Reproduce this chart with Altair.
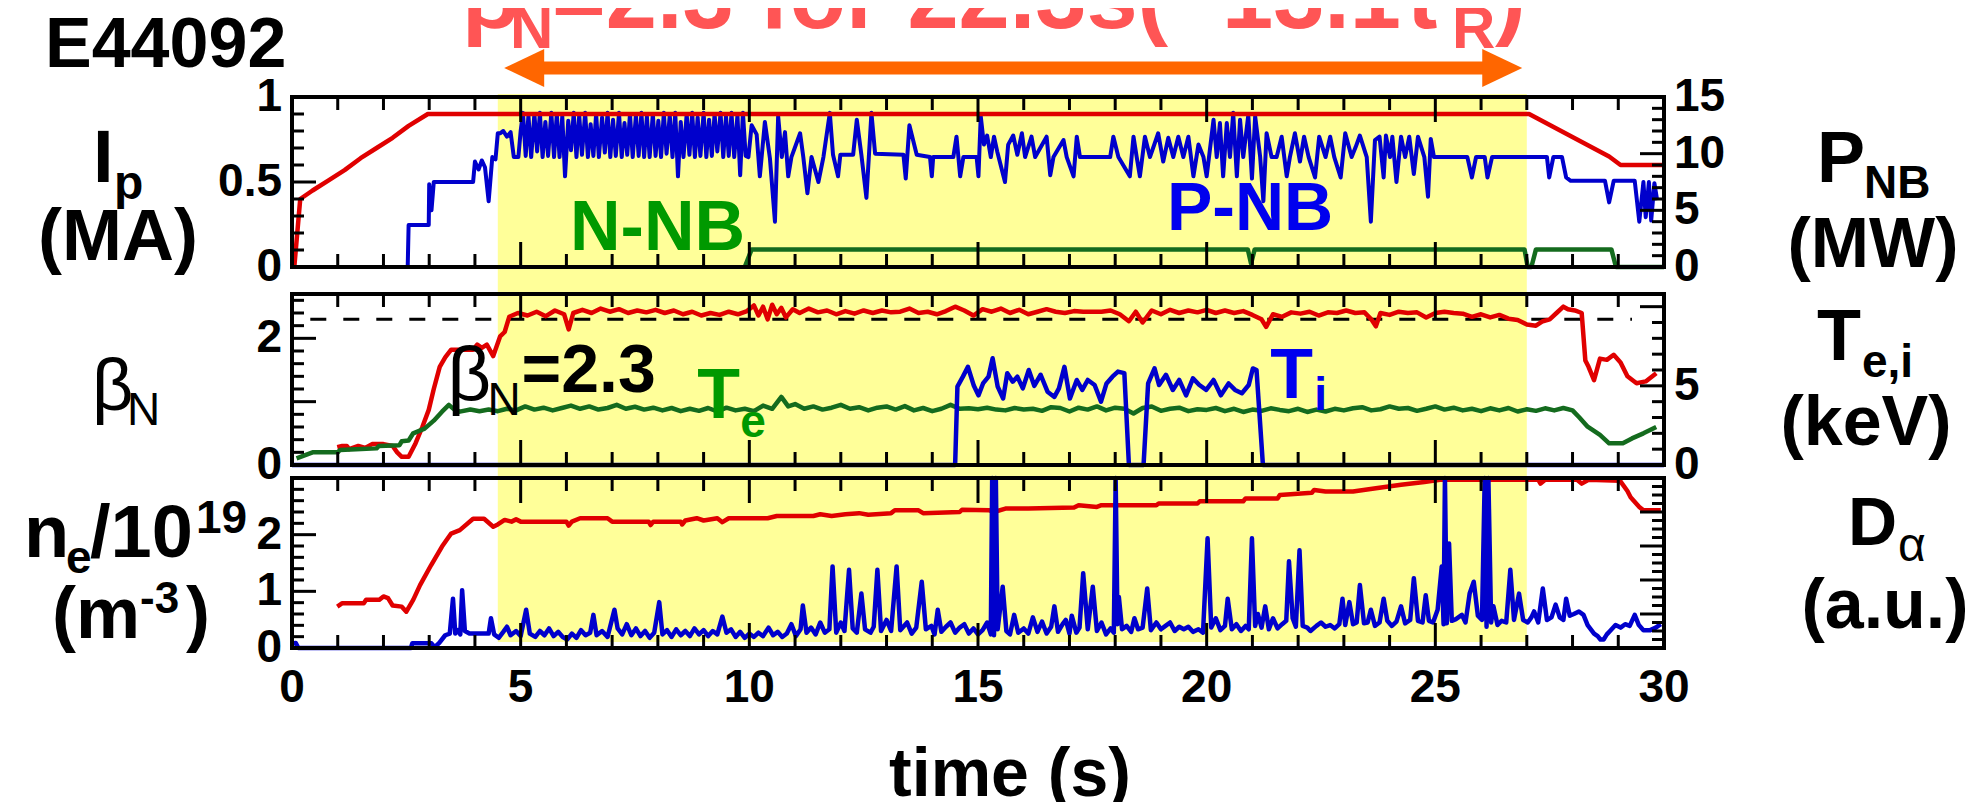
import altair as alt
import pandas as pd

FONT = "Liberation Sans"

# ------------------------------------------------------------------ data
# (time [s], value) pairs
IP = [(0.05, 0.0), (0.18, 0.40), (0.45, 0.45), (0.80, 0.51), (1.15, 0.57), (1.50, 0.64),
      (1.85, 0.70), (2.20, 0.76), (2.55, 0.83), (2.97, 0.90), (27.05, 0.90), (27.40, 0.85),
      (27.75, 0.80), (28.10, 0.75), (28.45, 0.70), (28.80, 0.65), (29.05, 0.60), (30.0, 0.60)]

PNB = [(2.53, 0.0), (2.55, 3.7), (2.99, 3.7), (3.00, 7.3), (3.05, 5.0), (3.10, 7.5), (3.96, 7.5),
       (4.00, 9.3), (4.08, 8.6), (4.15, 9.4), (4.22, 8.8), (4.30, 5.8), (4.38, 9.7), (4.45, 9.5),
       (4.50, 11.8), (4.55, 11.8), (4.62, 12.0), (4.70, 11.5), (4.78, 11.9), (4.85, 9.7), (4.95, 9.7),
       (5.00, 12.0),
       (5.05, 13.6), (5.11, 9.8), (5.17, 13.4), (5.23, 9.7), (5.30, 13.5), (5.36, 10.2), (5.42, 13.6), (5.48, 9.7), (5.54, 12.8), (5.60, 9.8),
       (5.67, 13.6), (5.73, 9.7), (5.79, 13.5), (5.85, 9.7), (5.91, 13.3), (5.97, 8.0), (6.04, 12.9), (6.10, 10.3), (6.16, 13.6), (6.22, 9.7),
       (6.28, 13.4), (6.34, 9.9), (6.41, 13.6), (6.47, 9.7), (6.53, 12.6), (6.59, 9.8), (6.65, 13.5), (6.71, 9.7), (6.78, 13.2), (6.84, 10.1),
       (6.90, 13.6), (6.96, 9.7), (7.02, 13.0), (7.08, 9.8), (7.15, 13.6), (7.21, 9.7), (7.27, 12.7), (7.33, 9.9), (7.39, 13.5), (7.45, 9.7),
       (7.52, 13.4), (7.58, 9.8), (7.64, 13.6), (7.70, 9.7), (7.76, 13.3), (7.82, 9.7), (7.89, 13.5), (7.95, 9.8), (8.01, 12.9), (8.07, 9.7),
       (8.13, 13.6), (8.19, 10.0), (8.26, 13.4), (8.32, 9.7), (8.38, 13.6), (8.44, 8.0), (8.50, 12.8), (8.56, 9.7), (8.63, 13.5), (8.69, 9.9),
       (8.75, 13.6), (8.81, 9.7), (8.87, 13.2), (8.93, 9.8), (9.00, 13.6), (9.06, 9.7), (9.12, 13.0), (9.18, 9.8), (9.24, 13.5), (9.30, 10.2),
       (9.37, 13.6), (9.43, 9.7), (9.49, 13.3), (9.55, 9.8), (9.61, 13.6), (9.67, 9.7), (9.74, 13.4), (9.80, 8.1), (9.86, 13.6), (9.92, 9.8),
       (9.98, 9.7), (10.05, 12.5), (10.16, 11.7), (10.23, 8.0), (10.34, 12.8), (10.45, 9.6), (10.56, 4.0),
       (10.63, 13.3), (10.71, 9.7), (10.78, 11.9), (10.85, 8.0), (10.92, 9.7), (11.11, 11.8), (11.18, 9.7),
       (11.27, 6.5), (11.36, 9.7), (11.51, 7.5), (11.62, 9.7), (11.76, 13.6), (11.83, 9.9), (11.94, 8.0),
       (11.99, 9.9), (12.27, 9.9), (12.35, 13.0), (12.45, 9.9), (12.56, 6.1), (12.67, 13.6), (12.75, 10.0),
       (13.37, 9.9), (13.42, 7.8), (13.50, 12.5), (13.66, 9.9), (13.95, 9.7), (13.99, 8.0), (14.02, 9.7),
       (14.46, 9.7), (14.53, 11.5), (14.61, 8.0), (14.68, 9.7), (14.97, 9.7), (15.01, 8.0), (15.06, 13.3),
       (15.13, 10.8), (15.20, 11.6), (15.28, 9.7), (15.35, 11.5), (15.42, 10.2), (15.59, 7.5), (15.66, 10.8),
       (15.77, 11.6), (15.86, 9.9), (15.96, 11.8), (16.03, 9.7), (16.17, 11.5), (16.25, 9.7), (16.50, 11.5),
       (16.58, 8.1), (16.65, 9.7), (16.87, 11.2), (16.94, 9.7), (17.09, 8.0), (17.16, 11.5), (17.23, 9.7),
       (17.89, 9.7), (17.96, 11.5), (18.07, 9.7), (18.32, 8.0), (18.40, 11.5), (18.47, 9.7), (18.54, 8.0),
       (18.65, 11.5), (18.76, 9.7), (18.94, 11.8), (19.05, 9.3), (19.16, 11.4), (19.27, 9.7), (19.38, 11.5),
       (19.49, 9.7), (19.60, 11.5), (19.71, 8.0), (19.82, 10.8), (19.93, 9.7), (20.00, 8.0), (20.15, 13.0),
       (20.22, 9.7), (20.29, 12.7), (20.36, 8.0), (20.44, 12.7), (20.51, 9.7), (20.58, 13.6), (20.66, 8.0),
       (20.73, 13.0), (20.80, 9.7), (20.91, 13.4), (20.99, 7.8), (21.06, 13.3), (21.17, 9.7), (21.24, 5.8),
       (21.31, 11.8), (21.42, 9.7), (21.53, 9.7), (21.64, 11.5), (21.75, 8.0), (21.82, 9.7), (21.93, 11.8),
       (22.04, 9.3), (22.13, 11.5), (22.23, 9.7), (22.37, 7.9), (22.46, 11.5), (22.60, 9.7), (22.70, 11.5),
       (22.79, 9.7), (22.93, 7.9), (23.03, 11.8), (23.17, 9.7), (23.26, 10.6), (23.35, 11.6), (23.50, 9.7),
       (23.59, 4.0), (23.68, 11.2), (23.78, 11.5), (23.87, 7.9), (23.92, 11.6), (24.01, 9.7), (24.06, 11.5),
       (24.15, 7.5), (24.25, 11.5), (24.34, 9.7), (24.43, 11.5), (24.53, 8.2), (24.62, 11.5), (24.76, 9.7),
       (24.84, 6.2), (24.90, 11.3), (24.97, 9.7), (25.70, 9.7), (25.80, 7.9), (25.89, 9.7), (26.08, 9.7),
       (26.14, 7.9), (26.24, 9.7), (27.44, 9.7), (27.49, 7.9), (27.58, 9.7), (27.77, 9.7), (27.86, 7.9),
       (27.96, 7.6), (28.71, 7.6), (28.80, 5.7), (28.90, 7.6), (29.36, 7.6), (29.46, 4.0), (29.55, 7.5),
       (29.60, 4.4), (29.67, 7.5), (29.72, 4.1), (29.79, 7.4), (29.85, 5.9)]

NNB = [(9.90, 0.0), (10.05, 1.55), (20.90, 1.55), (20.97, 0.3), (21.05, 1.55), (26.95, 1.55),
       (27.02, 0.0), (27.10, 0.0), (27.20, 1.55), (28.85, 1.55), (28.95, 0.0), (30.0, 0.0)]

BETA = [(0.99, 0.28), (1.10, 0.30), (1.20, 0.30), (1.25, 0.25), (1.45, 0.30), (1.60, 0.27), (1.75, 0.33),
        (2.00, 0.33), (2.20, 0.30), (2.30, 0.20), (2.40, 0.13), (2.55, 0.13), (2.70, 0.34), (2.85, 0.60),
        (2.99, 0.87), (3.10, 1.20), (3.23, 1.55), (3.35, 1.70), (3.48, 1.82), (3.96, 1.82), (4.05, 1.90),
        (4.15, 1.85), (4.26, 1.90), (4.40, 1.72), (4.55, 2.03), (4.65, 2.10), (4.75, 2.34), (4.94, 2.40),
        (5.15, 2.36), (5.35, 2.42), (5.55, 2.35), (5.75, 2.44), (5.95, 2.38), (6.05, 2.14), (6.15, 2.40),
        (6.35, 2.45), (6.55, 2.40), (6.75, 2.47), (6.95, 2.42), (7.15, 2.46), (7.35, 2.40), (7.55, 2.44),
        (7.75, 2.41), (7.95, 2.45), (8.15, 2.40), (8.35, 2.44), (8.55, 2.38), (8.75, 2.42), (8.95, 2.36),
        (9.15, 2.40), (9.35, 2.37), (9.55, 2.42), (9.75, 2.38), (9.95, 2.43), (10.10, 2.52), (10.20, 2.36),
        (10.30, 2.50), (10.40, 2.30), (10.50, 2.53), (10.60, 2.38), (10.70, 2.48), (10.80, 2.33), (10.95, 2.46),
        (11.10, 2.40), (11.30, 2.47), (11.50, 2.41), (11.70, 2.44), (11.90, 2.38), (12.10, 2.43), (12.30, 2.39),
        (12.50, 2.44), (12.70, 2.40), (12.90, 2.44), (13.10, 2.41), (13.30, 2.42), (13.50, 2.47), (13.70, 2.40),
        (13.90, 2.42), (14.10, 2.38), (14.30, 2.43), (14.50, 2.50), (14.70, 2.44), (14.90, 2.36), (15.10, 2.46),
        (15.30, 2.42), (15.50, 2.47), (15.70, 2.40), (15.90, 2.45), (16.10, 2.38), (16.30, 2.42), (16.50, 2.46),
        (16.70, 2.42), (16.90, 2.40), (17.10, 2.43), (17.30, 2.42), (17.50, 2.42), (17.70, 2.42), (17.90, 2.44),
        (18.10, 2.38), (18.30, 2.27), (18.45, 2.42), (18.60, 2.25), (18.80, 2.44), (19.00, 2.38), (19.20, 2.45),
        (19.40, 2.40), (19.60, 2.44), (19.80, 2.41), (20.00, 2.45), (20.20, 2.40), (20.40, 2.44), (20.60, 2.40),
        (20.80, 2.43), (21.00, 2.37), (21.20, 2.30), (21.30, 2.18), (21.45, 2.38), (21.65, 2.34), (21.85, 2.41),
        (22.05, 2.39), (22.25, 2.42), (22.45, 2.36), (22.65, 2.41), (22.85, 2.40), (23.05, 2.44), (23.25, 2.40),
        (23.45, 2.41), (23.60, 2.30), (23.70, 2.19), (23.80, 2.40), (24.00, 2.37), (24.20, 2.42), (24.40, 2.40),
        (24.60, 2.41), (24.80, 2.33), (25.00, 2.40), (25.20, 2.42), (25.40, 2.40), (25.60, 2.39), (25.80, 2.34),
        (26.00, 2.38), (26.20, 2.33), (26.40, 2.37), (26.60, 2.31), (26.80, 2.29), (27.00, 2.22), (27.20, 2.20),
        (27.35, 2.27), (27.50, 2.30), (27.65, 2.40), (27.80, 2.50), (27.90, 2.46), (28.05, 2.44), (28.20, 2.40),
        (28.28, 1.65), (28.35, 1.55), (28.47, 1.34), (28.60, 1.68), (28.75, 1.66), (28.90, 1.74), (29.05, 1.62),
        (29.20, 1.40), (29.40, 1.29), (29.60, 1.32), (29.83, 1.45)]

TE = [(0.10, 0.42), (0.45, 0.80), (1.00, 0.80), (1.05, 0.95), (1.40, 1.00), (1.85, 1.05), (1.90, 1.20),
      (2.35, 1.25), (2.40, 1.50), (2.55, 1.55), (2.65, 2.00), (2.90, 2.30), (3.10, 2.80), (3.28, 3.37),
      (3.43, 3.80), (3.55, 3.50), (3.67, 3.37), (3.90, 3.50), (4.10, 3.40), (4.30, 3.50), (4.50, 3.40),
      (4.7, 3.55), (4.9, 3.45), (5.1, 3.70), (5.3, 3.50), (5.5, 3.62), (5.7, 3.45), (5.9, 3.60), (6.1, 3.75),
      (6.3, 3.55), (6.5, 3.70), (6.7, 3.50), (6.9, 3.60), (7.1, 3.80), (7.3, 3.55), (7.5, 3.68), (7.7, 3.50),
      (7.9, 3.62), (8.1, 3.45), (8.3, 3.60), (8.5, 3.40), (8.7, 3.55), (8.9, 3.42), (9.1, 3.60), (9.3, 3.38),
      (9.5, 3.62), (9.7, 3.45), (9.9, 3.55), (10.1, 3.40), (10.3, 3.75), (10.5, 3.55), (10.7, 4.30), (10.85, 3.70),
      (11.0, 3.85), (11.2, 3.55), (11.4, 3.70), (11.6, 3.50), (11.8, 3.62), (12.0, 3.80), (12.2, 3.55), (12.4, 3.65),
      (12.6, 3.45), (12.8, 3.62), (13.0, 3.70), (13.2, 3.50), (13.4, 3.72), (13.6, 3.45), (13.8, 3.60), (14.0, 3.40),
      (14.2, 3.55), (14.4, 3.80), (14.6, 3.55), (14.8, 3.58), (15.0, 3.52), (15.2, 3.62), (15.4, 3.50), (15.6, 3.45),
      (15.8, 3.60), (16.0, 3.50), (16.2, 3.55), (16.4, 3.42), (16.6, 3.65), (16.8, 3.60), (17.0, 3.38), (17.2, 3.62),
      (17.4, 3.50), (17.6, 3.70), (17.8, 3.45), (18.0, 3.62), (18.2, 3.55), (18.4, 3.25), (18.6, 3.60), (18.8, 3.70),
      (19.0, 3.42), (19.2, 3.55), (19.4, 3.62), (19.6, 3.40), (19.8, 3.52), (20.0, 3.48), (20.2, 3.60), (20.4, 3.40),
      (20.6, 3.55), (20.8, 3.35), (21.0, 3.50), (21.2, 3.42), (21.4, 3.58), (21.6, 3.48), (21.8, 3.40), (22.0, 3.55),
      (22.2, 3.35), (22.4, 3.50), (22.6, 3.38), (22.8, 3.55), (23.0, 3.45), (23.2, 3.58), (23.4, 3.65), (23.6, 3.45),
      (23.8, 3.52), (24.0, 3.70), (24.2, 3.55), (24.4, 3.60), (24.6, 3.42), (24.8, 3.55), (25.0, 3.70), (25.2, 3.50),
      (25.4, 3.62), (25.6, 3.45), (25.8, 3.55), (26.0, 3.40), (26.2, 3.58), (26.4, 3.45), (26.6, 3.60), (26.8, 3.38),
      (27.0, 3.52), (27.2, 3.42), (27.4, 3.58), (27.6, 3.45), (27.8, 3.60), (28.0, 3.45), (28.15, 3.00),
      (28.33, 2.42), (28.60, 1.90), (28.80, 1.37), (29.10, 1.37), (29.30, 1.68), (29.55, 2.00), (29.83, 2.40)]

TI = [(0.0, 0.0), (14.50, 0.0), (14.55, 4.95), (14.67, 5.58), (14.78, 6.2), (14.91, 5.0), (15.01, 4.4),
      (15.11, 5.15), (15.23, 5.58), (15.32, 6.74), (15.43, 4.95), (15.55, 4.2), (15.64, 5.8), (15.76, 5.26),
      (15.86, 5.58), (15.98, 4.84), (16.11, 6.0), (16.23, 5.0), (16.37, 5.7), (16.52, 4.63), (16.67, 4.3),
      (16.77, 4.84), (16.89, 6.2), (17.01, 4.2), (17.16, 5.37), (17.28, 4.74), (17.40, 5.37), (17.55, 5.05),
      (17.69, 4.0), (17.81, 5.15), (17.94, 5.58), (18.06, 5.9), (18.20, 5.8), (18.30, 0.0), (18.62, 0.0),
      (18.72, 5.15), (18.86, 6.1), (18.96, 5.05), (19.11, 5.7), (19.26, 4.74), (19.40, 5.37), (19.55, 4.4),
      (19.70, 5.47), (19.84, 5.05), (19.99, 4.74), (20.15, 5.37), (20.31, 4.4), (20.48, 5.15), (20.62, 4.74),
      (20.77, 4.53), (20.92, 5.05), (21.01, 6.1), (21.09, 6.0), (21.23, 0.0), (30.0, 0.0)]

NE = [(0.99, 0.73), (1.10, 0.79), (1.57, 0.79), (1.62, 0.85), (1.91, 0.85), (2.00, 0.91), (2.10, 0.88),
      (2.20, 0.75), (2.40, 0.73), (2.50, 0.64), (2.65, 0.85), (2.80, 1.11), (3.04, 1.46), (3.28, 1.79),
      (3.48, 2.02), (3.67, 2.08), (3.96, 2.28), (4.20, 2.28), (4.40, 2.14), (4.50, 2.18), (4.65, 2.26),
      (4.80, 2.23), (4.90, 2.27), (5.00, 2.23), (6.00, 2.23), (6.05, 2.16), (6.12, 2.23), (6.30, 2.29),
      (6.90, 2.29), (7.00, 2.23), (7.80, 2.23), (7.84, 2.17), (7.90, 2.23), (8.50, 2.23), (8.53, 2.18),
      (8.60, 2.25), (8.85, 2.29), (9.00, 2.25), (9.30, 2.29), (9.41, 2.22), (9.55, 2.29), (10.40, 2.29),
      (10.60, 2.33), (11.40, 2.33), (11.55, 2.36), (11.80, 2.33), (12.10, 2.36), (12.40, 2.38), (12.60, 2.35),
      (13.10, 2.38), (13.18, 2.43), (13.70, 2.43), (13.80, 2.38), (14.60, 2.40), (14.65, 2.44), (15.25, 2.43),
      (15.35, 2.40), (15.60, 2.46), (16.10, 2.46), (17.10, 2.48), (17.20, 2.52), (17.60, 2.49), (17.70, 2.52),
      (18.90, 2.52), (18.95, 2.55), (19.80, 2.55), (19.85, 2.59), (20.80, 2.59), (20.85, 2.64), (21.55, 2.64),
      (21.60, 2.70), (22.30, 2.74), (22.35, 2.79), (22.60, 2.76), (23.20, 2.76), (23.70, 2.82), (24.25, 2.88),
      (24.76, 2.93), (25.10, 2.97), (27.25, 2.97), (27.30, 2.90), (27.40, 2.97), (28.10, 2.97), (28.20, 2.90),
      (28.35, 2.97), (29.04, 2.95), (29.20, 2.77), (29.27, 2.66), (29.46, 2.49), (29.55, 2.43), (29.93, 2.43)]

DALPHA = [(0.00, 0.5), (0.08, 0.6), (0.14, 0.0), (2.60, 0.0), (2.63, 0.55), (3.05, 0.55), (3.12, 0.1),
          (3.22, 0.6), (3.35, 1.5), (3.45, 1.7), (3.52, 5.8), (3.57, 1.7), (3.63, 2.1), (3.68, 1.6),
          (3.72, 6.8), (3.78, 2.0), (3.88, 1.7), (4.30, 1.7), (4.35, 3.5), (4.42, 1.6), (4.52, 1.2),
          (4.62, 1.9), (4.70, 2.5), (4.78, 1.5), (4.90, 2.0), (5.00, 1.4), (5.12, 4.5), (5.20, 1.7),
          (5.32, 1.3), (5.42, 2.0), (5.52, 1.5), (5.62, 2.3), (5.72, 1.4), (5.82, 1.9), (5.92, 1.3),
          (6.02, 1.0), (6.12, 1.7), (6.22, 1.2), (6.32, 2.1), (6.42, 1.5), (6.52, 1.8), (6.59, 3.9),
          (6.66, 1.5), (6.78, 2.0), (6.90, 1.3), (7.05, 4.5), (7.12, 2.3), (7.22, 1.6), (7.32, 2.8),
          (7.42, 1.5), (7.52, 2.3), (7.62, 1.4), (7.72, 2.0), (7.82, 1.2), (7.92, 1.8), (8.03, 5.4),
          (8.10, 1.6), (8.20, 2.1), (8.30, 1.3), (8.40, 2.2), (8.50, 1.5), (8.60, 2.0), (8.70, 1.4),
          (8.80, 2.3), (8.90, 1.6), (9.00, 2.1), (9.10, 1.4), (9.20, 2.0), (9.30, 1.6), (9.41, 3.7),
          (9.50, 1.8), (9.60, 2.2), (9.70, 1.3), (9.80, 1.9), (9.90, 1.2), (10.00, 1.7), (10.10, 1.3),
          (10.20, 1.8), (10.30, 1.4), (10.42, 2.4), (10.52, 1.5), (10.62, 1.9), (10.72, 1.3), (10.82, 1.7),
          (10.92, 2.8), (11.02, 1.4), (11.12, 2.2), (11.17, 5.0), (11.25, 1.8), (11.35, 2.4), (11.45, 1.6),
          (11.55, 3.0), (11.65, 1.8), (11.75, 2.2), (11.82, 9.6), (11.90, 1.8), (12.00, 3.0), (12.08, 2.0),
          (12.18, 9.2), (12.26, 2.3), (12.35, 1.8), (12.45, 6.4), (12.53, 2.2), (12.65, 1.8), (12.72, 2.5),
          (12.80, 9.2), (12.88, 2.0), (13.00, 3.3), (13.10, 2.0), (13.22, 9.6), (13.30, 2.1), (13.45, 3.0),
          (13.55, 1.7), (13.65, 2.4), (13.77, 7.8), (13.86, 2.2), (13.98, 2.6), (14.05, 1.6), (14.12, 4.5),
          (14.20, 1.9), (14.30, 2.5), (14.40, 3.0), (14.50, 1.8), (14.60, 2.4), (14.70, 2.8), (14.80, 1.7),
          (14.90, 2.3), (15.00, 1.6), (15.10, 2.1), (15.20, 3.0), (15.28, 1.6), (15.31, 24.0), (15.35, 1.5),
          (15.39, 24.0), (15.43, 2.2), (15.54, 7.2), (15.62, 2.0), (15.70, 1.6), (15.79, 3.9), (15.88, 1.8),
          (16.00, 2.3), (16.10, 1.7), (16.20, 3.6), (16.30, 1.9), (16.40, 3.1), (16.50, 1.7), (16.60, 2.5),
          (16.67, 4.9), (16.75, 1.9), (16.85, 2.8), (16.92, 3.3), (17.00, 1.7), (17.05, 3.8), (17.15, 1.8),
          (17.22, 2.4), (17.30, 8.8), (17.40, 2.2), (17.51, 7.2), (17.60, 2.0), (17.70, 3.0), (17.80, 1.6),
          (17.90, 2.3), (17.97, 1.8), (18.01, 24.0), (18.05, 2.8), (18.08, 6.0), (18.15, 2.2), (18.25, 2.6),
          (18.35, 1.9), (18.42, 3.5), (18.50, 2.2), (18.60, 2.4), (18.70, 7.0), (18.78, 2.1), (18.90, 3.0),
          (19.00, 2.2), (19.10, 2.6), (19.20, 3.0), (19.30, 2.0), (19.40, 2.5), (19.50, 2.2), (19.60, 2.5),
          (19.70, 1.9), (19.82, 2.2), (19.92, 1.8), (20.02, 12.9), (20.10, 2.4), (20.20, 3.5), (20.30, 2.1),
          (20.40, 2.6), (20.46, 5.8), (20.55, 2.2), (20.65, 2.8), (20.75, 2.0), (20.85, 2.6), (20.92, 2.2),
          (20.99, 12.9), (21.06, 2.6), (21.12, 4.0), (21.20, 2.4), (21.28, 4.9), (21.36, 2.2), (21.45, 3.5),
          (21.55, 2.3), (21.65, 2.8), (21.74, 3.2), (21.80, 10.2), (21.88, 3.5), (21.95, 2.5), (22.03, 11.5),
          (22.10, 2.6), (22.20, 2.4), (22.27, 2.0), (22.40, 2.6), (22.50, 3.0), (22.60, 2.5), (22.70, 2.7),
          (22.80, 2.3), (22.90, 2.8), (22.97, 5.8), (23.03, 2.7), (23.12, 5.4), (23.20, 2.8), (23.28, 3.0),
          (23.35, 7.4), (23.44, 2.9), (23.52, 3.0), (23.59, 4.5), (23.68, 2.6), (23.78, 3.0), (23.87, 5.8),
          (23.95, 3.2), (24.05, 2.6), (24.15, 3.1), (24.25, 4.9), (24.34, 2.9), (24.45, 3.3), (24.53, 8.2),
          (24.62, 3.2), (24.72, 3.0), (24.79, 6.2), (24.86, 3.2), (24.95, 3.0), (25.05, 4.5), (25.14, 9.6),
          (25.18, 2.8), (25.21, 24.0), (25.25, 2.9), (25.30, 12.3), (25.36, 3.2), (25.45, 3.4), (25.58, 3.9),
          (25.66, 3.0), (25.75, 6.4), (25.84, 7.8), (25.93, 3.8), (26.02, 3.3), (26.08, 24.0), (26.12, 2.5),
          (26.16, 24.0), (26.22, 3.0), (26.27, 4.9), (26.36, 2.7), (26.45, 3.2), (26.55, 3.0), (26.64, 9.2),
          (26.72, 3.3), (26.83, 6.4), (26.92, 3.3), (27.02, 3.0), (27.10, 3.6), (27.16, 4.3), (27.25, 3.0),
          (27.35, 7.0), (27.44, 3.3), (27.54, 3.6), (27.63, 5.1), (27.72, 3.6), (27.80, 3.3), (27.86, 5.8),
          (27.94, 3.8), (28.03, 4.0), (28.14, 4.3), (28.24, 3.9), (28.33, 2.7), (28.40, 2.2), (28.47, 1.7),
          (28.55, 1.4), (28.61, 1.0), (28.68, 1.0), (28.75, 1.6), (28.82, 2.0), (28.94, 2.7), (29.05, 2.4),
          (29.15, 2.8), (29.25, 2.6), (29.36, 3.9), (29.45, 2.7), (29.55, 2.1), (29.70, 2.1), (29.82, 2.4),
          (29.93, 2.8)]

BETA_TARGET = 2.3
BETA_TARGET_SPAN = [0.4, 29.3]
FLATTOP = [4.5, 27.0]        # highlighted beta_N = 2.3 phase
ARROW_SPAN = [4.64, 26.9]

# axis ticks and labels
T_DOMAIN = [0, 30]
T_MINOR = [1, 2, 3, 4, 6, 7, 8, 9, 11, 12, 13, 14, 16, 17, 18, 19, 21, 22, 23, 24, 26, 27, 28, 29]
T_MAJOR = [5, 10, 15, 20, 25]
T_LABELS = [0, 5, 10, 15, 20, 25, 30]

IP_DOMAIN = [0, 1]
IP_MINOR = [0.1, 0.2, 0.3, 0.4, 0.6, 0.7, 0.8, 0.9]
IP_MAJOR = [0.5]
IP_LABELS = [(0, "0"), (0.5, "0.5"), (1, "1")]

PNB_DOMAIN = [0, 15]
PNB_MINOR = [1, 2, 3, 4, 6, 7, 8, 9, 11, 12, 13, 14]
PNB_MAJOR = [5, 10]
PNB_LABELS = [(0, "0"), (5, "5"), (10, "10"), (15, "15")]

BETA_DOMAIN = [0, 2.7]
BETA_MINOR = [0.2, 0.4, 0.6, 0.8, 1.2, 1.4, 1.6, 1.8, 2.2, 2.4, 2.6]
BETA_MAJOR = [1, 2]
BETA_LABELS = [(0, "0"), (2, "2")]

TE_DOMAIN = [0, 10.8]
TE_MINOR = [1, 2, 3, 4, 6, 7, 8, 9]
TE_MAJOR = [5, 10]
TE_LABELS = [(0, "0"), (5, "5")]

NE_DOMAIN = [0, 3]
NE_MINOR = [0.2, 0.4, 0.6, 0.8, 1.2, 1.4, 1.6, 1.8, 2.2, 2.4, 2.6, 2.8]
NE_MAJOR = [1, 2]
NE_LABELS = [(0, "0"), (1, "1"), (2, "2")]

DA_DOMAIN = [0, 20]
DA_MINOR = [1, 2, 3, 5, 6, 7, 9, 10, 11, 13, 14, 15, 17, 18, 19]
DA_MAJOR = [4, 8, 12, 16]

# ------------------------------------------------------------------ layout / style
OFF = 8                      # page margin: page px -> chart px
W, H = 1957, 794
X0, X1 = 292 - OFF, 1664 - OFF
P1 = (267 - OFF, 97 - OFF)
P2 = (465 - OFF, 294 - OFF)
P3 = (648 - OFF, 478 - OFF)

RED = "#E00000"
BLUE = "#0000CC"
DGREEN = "#146B1E"
TGREEN = "#009900"
TBLUE = "#0000EE"
YELLOW = "#FFFF99"
ORANGE = "#FF6600"
SALMON = "#FF5555"
TICK_FS = 46
LW = 4.5

XS = alt.Scale(domain=T_DOMAIN, range=[X0, X1], nice=False, zero=False)


def ysc(dom, rng, clamp=False):
    if clamp:
        return alt.Scale(domain=dom, range=[rng[0], rng[1]], nice=False, zero=False, clamp=True)
    return alt.Scale(domain=dom, range=[rng[0], rng[1]], nice=False, zero=False)


S_IP = ysc(IP_DOMAIN, P1)
S_PNB = ysc(PNB_DOMAIN, P1)
S_BETA = ysc(BETA_DOMAIN, P2)
S_TE = ysc(TE_DOMAIN, P2)
S_NE = ysc(NE_DOMAIN, P3)
S_DA = ysc(DA_DOMAIN, P3, clamp=True)


def ex(f="t"):
    return alt.X(f + ":Q", scale=XS, axis=None)


def ey(f, s):
    return alt.Y(f + ":Q", scale=s, axis=None)


def series(pairs, s, color, width=LW):
    t, v = zip(*pairs)
    d = pd.DataFrame({"t": list(t), "v": list(v)})
    return alt.Chart(d).mark_line(color=color, strokeWidth=width, strokeJoin="round").encode(
        x=ex(), y=ey("v", s))


def frame(dom, s):
    d = pd.DataFrame({"a": [T_DOMAIN[0]], "b": [T_DOMAIN[1]], "lo": [dom[0]], "hi": [dom[1]]})
    return alt.Chart(d).mark_rect(fillOpacity=0, stroke="black", strokeWidth=4).encode(
        x=ex("a"), x2=alt.X2("b"), y=ey("lo", s), y2=alt.Y2("hi"))


def xticks(vals, edge, s, size, top):
    d = pd.DataFrame({"t": vals, "v": [edge] * len(vals)})
    return alt.Chart(d).mark_tick(orient="vertical", size=size, thickness=3, color="black",
                                  opacity=1, yOffset=(size / 2 if top else -size / 2)).encode(
        x=ex(), y=ey("v", s))


def yticks(vals, edge_t, s, size, left):
    d = pd.DataFrame({"t": [edge_t] * len(vals), "v": vals})
    return alt.Chart(d).mark_tick(orient="horizontal", size=size, thickness=3, color="black",
                                  opacity=1, xOffset=(size / 2 if left else -size / 2)).encode(
        x=ex(), y=ey("v", s))


def ylabels(pairs, edge_t, s, left):
    v, txt = zip(*pairs)
    d = pd.DataFrame({"t": [edge_t] * len(v), "v": list(v), "s": list(txt)})
    return alt.Chart(d).mark_text(align=("right" if left else "left"), baseline="middle",
                                  dx=(-10 if left else 10), font=FONT, fontSize=TICK_FS,
                                  fontWeight="bold", color="black").encode(
        x=ex(), y=ey("v", s), text="s:N")


def ptext(s, x, y, size, color="black", weight="bold", align="left", clip=False):
    d = pd.DataFrame({"s": [s]})
    return alt.Chart(d).mark_text(align=align, baseline="alphabetic", font=FONT, fontSize=size,
                                  fontWeight=weight, color=color, clip=clip).encode(
        x=alt.value(x - OFF), y=alt.value(y - OFF), text="s:N")


def dtext(s, t, v, sc, size, color, weight="bold", dx=0, dy=0):
    d = pd.DataFrame({"s": [s], "t": [t], "v": [v]})
    return alt.Chart(d).mark_text(align="left", baseline="alphabetic", font=FONT, fontSize=size,
                                  fontWeight=weight, color=color, dx=dx, dy=dy).encode(
        x=ex(), y=ey("v", sc), text="s:N")


layers = []

# highlighted flat-top phase (spans the three panels)
layers.append(alt.Chart(pd.DataFrame({"a": [FLATTOP[0]], "b": [FLATTOP[1]]})).mark_rect(
    color=YELLOW).encode(x=ex("a"), x2=alt.X2("b"), y=alt.value(94 - OFF), y2=alt.value(642 - OFF)))

# beta_N = 2.3 reference
layers.append(alt.Chart(pd.DataFrame({"a": [BETA_TARGET_SPAN[0]], "b": [BETA_TARGET_SPAN[1]],
                                      "v": [BETA_TARGET]})).mark_rule(
    color="black", strokeWidth=3, strokeDash=[16, 17]).encode(x=ex("a"), x2=alt.X2("b"), y=ey("v", S_BETA)))

# signals
layers += [
    series(PNB, S_PNB, BLUE, 4),
    series(NNB, S_PNB, DGREEN),
    series(IP, S_IP, RED),
    series(BETA, S_BETA, RED),
    series(TE, S_TE, DGREEN),
    series(TI, S_TE, BLUE),
    series(NE, S_NE, RED),
    series(DALPHA, S_DA, BLUE),
]

# frames, ticks, tick labels
for dom, s in [(IP_DOMAIN, S_IP), (BETA_DOMAIN, S_BETA), (NE_DOMAIN, S_NE)]:
    layers.append(frame(dom, s))
    for top, edge in [(False, dom[0]), (True, dom[1])]:
        layers.append(xticks(T_MINOR, edge, s, 13, top))
        layers.append(xticks(T_MAJOR, edge, s, 25, top))

for minor, major, s, left in [
    (IP_MINOR, IP_MAJOR, S_IP, True), (PNB_MINOR, PNB_MAJOR, S_PNB, False),
    (BETA_MINOR, BETA_MAJOR, S_BETA, True), (TE_MINOR, TE_MAJOR, S_TE, False),
    (NE_MINOR, NE_MAJOR, S_NE, True), (DA_MINOR, DA_MAJOR, S_DA, False)]:
    edge_t = T_DOMAIN[0] if left else T_DOMAIN[1]
    layers.append(yticks(minor, edge_t, s, 12, left))
    layers.append(yticks(major, edge_t, s, 24, left))

layers += [
    ylabels(IP_LABELS, T_DOMAIN[0], S_IP, True),
    ylabels(PNB_LABELS, T_DOMAIN[1], S_PNB, False),
    ylabels(BETA_LABELS, T_DOMAIN[0], S_BETA, True),
    ylabels(TE_LABELS, T_DOMAIN[1], S_TE, False),
    ylabels(NE_LABELS, T_DOMAIN[0], S_NE, True),
]
layers.append(alt.Chart(pd.DataFrame({"t": T_LABELS, "v": [NE_DOMAIN[0]] * len(T_LABELS),
                                      "s": [str(x) for x in T_LABELS]})).mark_text(
    baseline="middle", dy=40, font=FONT, fontSize=TICK_FS, fontWeight="bold", color="black").encode(
    x=ex(), y=ey("v", S_NE), text="s:N"))

# arrow over the flat-top phase
adf = pd.DataFrame({"a": [ARROW_SPAN[0]], "b": [ARROW_SPAN[1]]})
layers.append(alt.Chart(adf).mark_rule(color=ORANGE, strokeWidth=13, xOffset=30, x2Offset=-30).encode(
    x=ex("a"), x2=alt.X2("b"), y=alt.value(68 - OFF)))
layers.append(alt.Chart(adf).mark_point(shape="M -1 0 L 1 -0.95 L 1 0.95 Z", size=1600, filled=True,
                                        color=ORANGE, opacity=1, xOffset=20).encode(
    x=ex("a"), y=alt.value(68 - OFF)))
layers.append(alt.Chart(adf).mark_point(shape="M 1 0 L -1 -0.95 L -1 0.95 Z", size=1600, filled=True,
                                        color=ORANGE, opacity=1, xOffset=-20).encode(
    x=ex("b"), y=alt.value(68 - OFF)))

# title (top part is cut by the page edge, as in the original)
layers += [
    ptext("\u03b2", 462, 28, 92, SALMON, clip=True),
    ptext("N", 510, 48, 60, SALMON, clip=True),
    ptext("=2.3 for 22.3s(~13.1\u03c4", 552, 28, 92, SALMON, clip=True),
    ptext("R", 1452, 48, 60, SALMON, clip=True),
    ptext(")", 1495, 28, 92, SALMON, clip=True),
]

# in-plot annotations
layers += [
    dtext("N-NB", 6.08, 1.5, S_PNB, 70, TGREEN),
    dtext("P-NB", 19.13, 3.27, S_PNB, 68, TBLUE),
    dtext("\u03b2", 3.40, 1.03, S_BETA, 76, "black", weight="normal"),
    dtext("N", 3.40, 1.03, S_BETA, 46, "black", weight="normal", dx=40, dy=15),
    dtext("=2.3", 3.40, 1.03, S_BETA, 68, "black", dx=74, dy=-8),
    dtext("T", 8.86, 2.97, S_TE, 70, TGREEN),
    dtext("e", 8.86, 2.97, S_TE, 46, TGREEN, dx=43, dy=19),
    dtext("T", 21.39, 4.23, S_TE, 70, TBLUE),
    dtext("i", 21.39, 4.23, S_TE, 46, TBLUE, dx=44, dy=12),
]

# outer labels
layers += [
    ptext("E44092", 45, 67, 70),
    ptext("I", 93, 182, 74),
    ptext("p", 114, 199, 48),
    ptext("(MA)", 118, 260, 72, align="center"),
    ptext("\u03b2", 92, 410, 72, weight="normal"),
    ptext("N", 127, 425, 46, weight="normal"),
    ptext("n", 24, 557, 74),
    ptext("e", 66, 573, 46),
    ptext("/10", 90, 557, 74),
    ptext("19", 196, 533, 46),
    ptext("(m", 52, 638, 72),
    ptext("-3", 140, 613, 44),
    ptext(")", 186, 638, 72),
    ptext("P", 1817, 182, 72),
    ptext("NB", 1864, 198, 46),
    ptext("(MW)", 1873, 267, 70, align="center"),
    ptext("T", 1817, 360, 72),
    ptext("e,i", 1862, 377, 46),
    ptext("(keV)", 1866, 445, 70, align="center"),
    ptext("D", 1848, 545, 68),
    ptext("\u03b1", 1898, 561, 48, weight="normal"),
    ptext("(a.u.)", 1885, 628, 70, align="center"),
    ptext("time (s)", 1010, 796, 68, align="center"),
]

chart = alt.layer(*layers).resolve_scale(y="independent").properties(
    width=W, height=H, padding=0, background="white",
    autosize=alt.AutoSizeParams(type="none"),
).configure_view(strokeWidth=0)

chart.save("out.html", embed_options={"renderer": "svg", "actions": False})
